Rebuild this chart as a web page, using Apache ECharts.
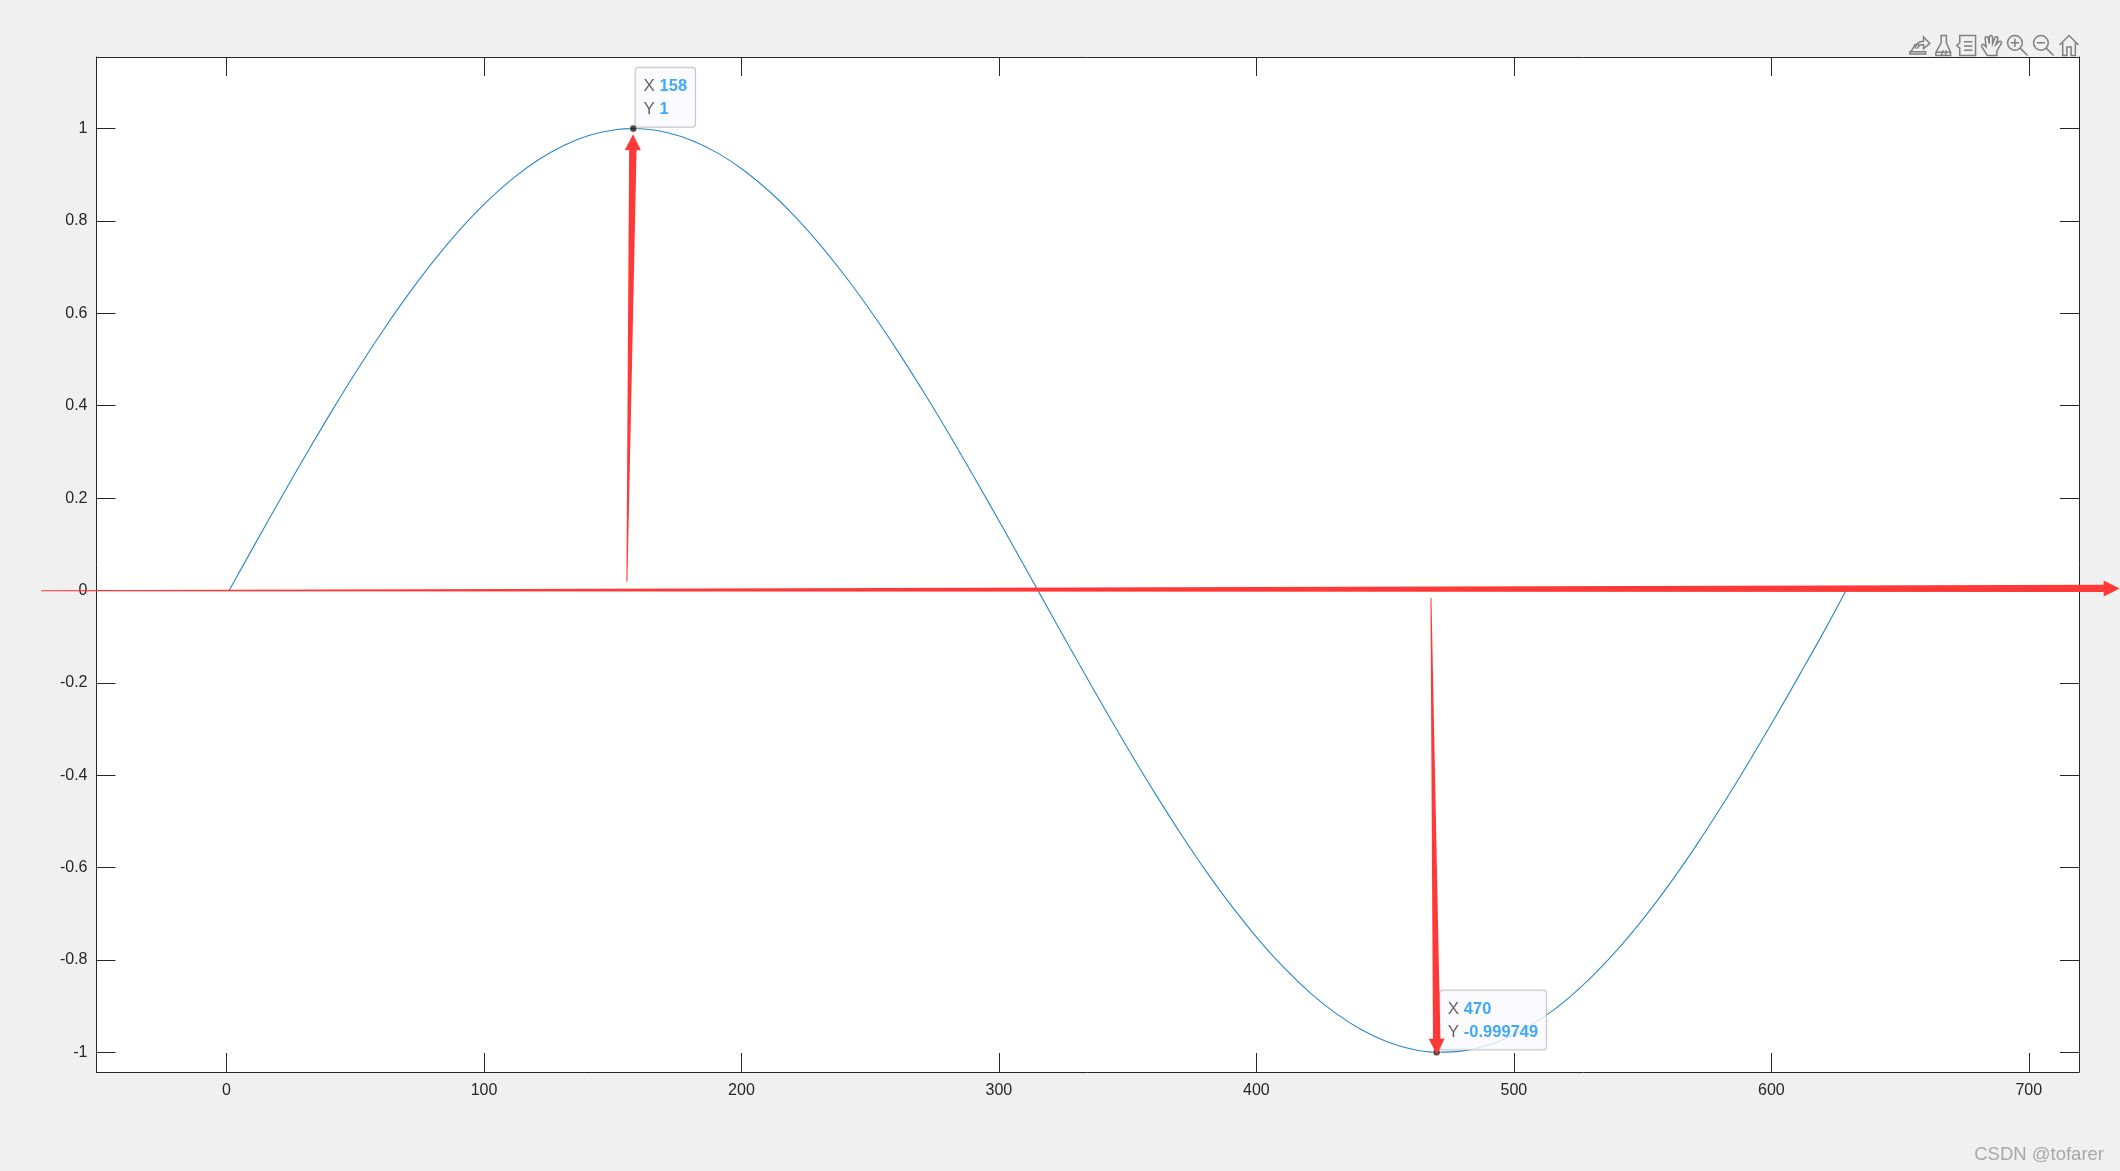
<!DOCTYPE html>
<html><head><meta charset="utf-8">
<style>html,body{margin:0;padding:0;background:#f0f0f0}#c{width:2120px;height:1171px}</style>
<script src="https://cdn.jsdelivr.net/npm/echarts@6/dist/echarts.min.js"></script>
</head><body><div id="c"></div>
<script>
const curveX=[1,11,21,31,41,51,61,71,81,91,101,111,121,131,141,151,158,161,171,181,191,201,211,221,231,241,251,261,271,281,291,301,311,321,331,341,351,361,371,381,391,401,411,421,431,441,451,461,470,481,491,501,511,521,531,541,551,561,571,581,591,601,611,621,629];
const curveY=[0,0.0998,0.1987,0.2955,0.3894,0.4794,0.5646,0.6442,0.7174,0.7833,0.8415,0.8912,0.932,0.9636,0.9854,0.9975,1,0.9996,0.9917,0.9738,0.9463,0.9093,0.8632,0.8085,0.7457,0.6755,0.5985,0.5155,0.4274,0.335,0.2392,0.1411,0.0416,-0.0584,-0.1577,-0.2555,-0.3508,-0.4425,-0.5298,-0.6119,-0.6878,-0.7568,-0.8183,-0.8716,-0.9162,-0.9516,-0.9775,-0.9937,-0.999749,-0.9962,-0.9825,-0.9589,-0.9258,-0.8835,-0.8323,-0.7728,-0.7055,-0.6313,-0.5507,-0.4646,-0.3739,-0.2794,-0.1822,-0.0831,0];
const xTicks=[0,100,200,300,400,500,600,700];
const yTicks=[-1,-0.8,-0.6,-0.4,-0.2,0,0.2,0.4,0.6,0.8,1];
const tipX=[158,470];
const tipY=[1,-0.999749];
const arrowFromX=[-72,155.5,467.8];
const arrowFromY=[-0.0006,0.019,-0.016];
const arrowToX=[735.3,157.9,470.1];
const arrowToY=[0.0045,0.988,-1.005];

const INK='#262626', RED='#ff3838';
const xRange={min:-50.5,max:719.5}, yRange={min:-1.0425,max:1.155};
const labelOffsets=[[6.5,-56.5],[7.5,-57.5]];
const tip=(i)=>({value:[tipX[i],tipY[i]],label:{position:labelOffsets[i],
  formatter:'{k|X}{v|'+tipX[i]+'}\n{k|Y}{v|'+tipY[i]+'}'}});
const icon=(d)=>'path://'+d;
const chart=echarts.init(document.getElementById('c'),null,{renderer:'canvas'});
const xBase=(pos,lab)=>Object.assign({type:'value',position:pos},xRange,{
  axisLine:{show:true,onZero:false,lineStyle:{color:INK,width:1}},
  axisTick:{show:true,inside:true,length:19,customValues:xTicks,lineStyle:{color:INK,width:1}},
  axisLabel:lab?{show:true,customValues:xTicks,color:INK,fontSize:16,margin:11,fontFamily:'Liberation Sans'}:{show:false},
  splitLine:{show:false}});
const yBase=(pos,lab)=>Object.assign({type:'value',position:pos},yRange,{
  axisLine:{show:true,onZero:false,lineStyle:{color:INK,width:1}},
  axisTick:{show:true,inside:true,length:19,customValues:yTicks,lineStyle:{color:INK,width:1}},
  axisLabel:lab?{show:true,customValues:yTicks,color:INK,fontSize:16,margin:9,fontFamily:'Liberation Sans'}:{show:false},
  splitLine:{show:false}});
chart.setOption({
  animation:false,
  backgroundColor:'#f0f0f0',
  grid:{left:96.5,right:41,top:57,bottom:99,show:true,backgroundColor:'#fff',borderWidth:0},
  xAxis:[xBase('bottom',true),xBase('top',false)],
  yAxis:[yBase('left',true),yBase('right',false)],
  toolbox:{show:true,right:39,top:33,itemSize:20,itemGap:1,showTitle:false,padding:0,
    iconStyle:{color:'none',borderColor:'#808080',borderWidth:1.5},
    emphasis:{iconStyle:{borderColor:'#808080'}},
    feature:{
      myExport:{show:true,title:'export',onclick(){},icon:icon('M2 17 L6 10 L10 10 M6 14 C7 9 10 7 14 7 L14 3 L20 9 L14 14 L14 10 C11 10 9 11 8 14 M1 17 L16 17 L16 19 L1 19 Z')},
      myBrush:{show:true,title:'brush',onclick(){},icon:icon('M8 1 L13 1 L13 8 L17 17 L17 20 L3 20 L3 17 L8 8 Z M3 17 L17 17 M8 20 L10 15 M12 20 L13 15')},
      myLegend:{show:true,title:'legend',onclick(){},icon:icon('M4 1 L19 1 L19 20 L4 20 L4 13 L1 10.5 L4 8 Z M8 7 L16 7 M8 11 L16 11 M8 15 L16 15')},
      myPan:{show:true,title:'pan',onclick(){},icon:icon('M6 19 L1 11 C0 9 2 8 3 9 L5 11 L4 3 C4 1 7 1 7 3 L8 8 L8 2 C8 0 11 0 11 2 L11 8 L13 3 C13 1 16 1 16 3 L14 9 L17 6 C19 5 20 7 19 8 L15 15 L15 19 Z')},
      myZoomIn:{show:true,title:'in',onclick(){},icon:icon('M8 1 A7 7 0 1 1 7.99 1 Z M13 13 L20 20 M8 4 L8 12 M4 8 L12 8')},
      myZoomOut:{show:true,title:'out',onclick(){},icon:icon('M8 1 A7 7 0 1 1 7.99 1 Z M13 13 L20 20 M4 8 L12 8')},
      myHome:{show:true,title:'home',onclick(){},icon:icon('M1 10 L10 1 L19 10 M4 8 L4 20 L8 20 L8 12 L12 12 L12 20 L16 20 L16 8')}
    }},
  graphic:[{type:'text',right:16,top:1145,style:{text:'CSDN @tofarer',fill:'#a8a8a8',font:'18.5px "Liberation Sans"'},z:20}],
  series:[
    {type:'line',xAxisIndex:0,yAxisIndex:0,data:curveX.map((x,i)=>[x,curveY[i]]),showSymbol:false,symbol:'none',smooth:0.4,clip:false,
      lineStyle:{color:'#2a86c8',width:1.1},z:2},
    {type:'scatter',xAxisIndex:0,yAxisIndex:0,symbolSize:7.5,itemStyle:{color:'#1a1a1a',borderColor:'#fdfbd8',borderWidth:1},z:3,
      data:tipX.map((_,i)=>tip(i)),
      label:{show:true,align:'left',verticalAlign:'top',backgroundColor:'#fafaff',borderColor:'#b5b5b5',borderWidth:1,borderRadius:3,
        padding:[7,8,6,8],lineHeight:23,
        rich:{k:{fontSize:17,color:'#404040',lineHeight:23,width:16,fontFamily:'Liberation Sans'},
              v:{fontSize:16.5,fontWeight:'bold',color:'#0f94f8',lineHeight:23,fontFamily:'Liberation Sans'}}}},
    {type:'custom',xAxisIndex:0,yAxisIndex:0,z:10,clip:false,silent:true,
      encode:{x:[0,2],y:[1,3]},
      data:arrowFromX.map((_,i)=>[arrowFromX[i],arrowFromY[i],arrowToX[i],arrowToY[i]]),
      renderItem(params,api){
        const a=api.coord([api.value(0),api.value(1)]), b=api.coord([api.value(2),api.value(3)]);
        const dx=b[0]-a[0],dy=b[1]-a[1],L=Math.hypot(dx,dy),ux=dx/L,uy=dy/L,nx=-uy,ny=ux;
        const headLen=16,headW=8,shaftEnd=3.7,shaftStart=0.5;
        const bx=b[0]-ux*headLen,by=b[1]-uy*headLen;
        const pts=[[a[0]+nx*shaftStart,a[1]+ny*shaftStart],[bx+nx*shaftEnd,by+ny*shaftEnd],[bx+nx*headW,by+ny*headW],b,
          [bx-nx*headW,by-ny*headW],[bx-nx*shaftEnd,by-ny*shaftEnd],[a[0]-nx*shaftStart,a[1]-ny*shaftStart]];
        return {type:'polygon',shape:{points:pts},style:{fill:RED}};
      }}
  ]
});
</script></body></html>
